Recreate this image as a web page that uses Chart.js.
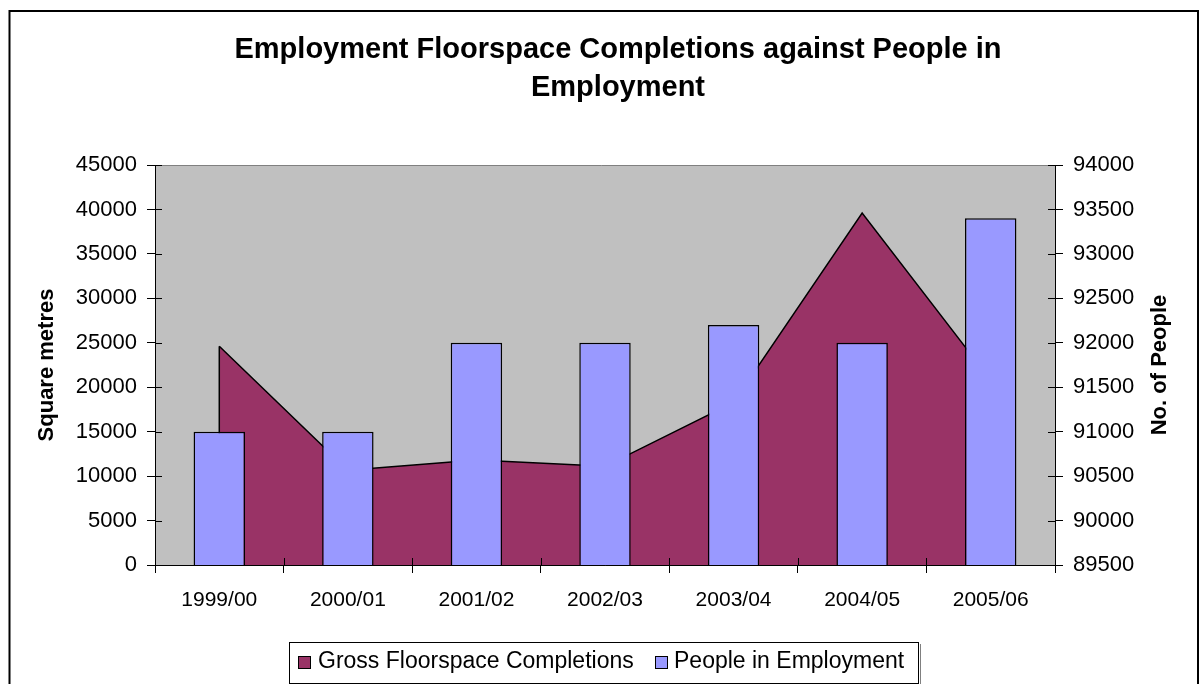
<!DOCTYPE html>
<html>
<head>
<meta charset="utf-8">
<title>Employment Floorspace Completions against People in Employment</title>
<script src="https://cdn.jsdelivr.net/npm/chart.js@4.4.0/dist/chart.umd.min.js"></script>
<style>
  html, body { margin: 0; padding: 0; background: #fff; }
  canvas { display: block; }
</style>
</head>
<body>
<canvas id="myChart" width="1202" height="684"></canvas>
<script>
// 연도별 값
const years = ['1999/00', '2000/01', '2001/02', '2002/03', '2003/04', '2004/05', '2005/06'];
const floorspace = [24600, 10650, 11800, 11100, 18300, 39600, 20800];
const employment = [91000, 91000, 92000, 92000, 92200, 92000, 93400];

// 축 범위
const sqmAxis = { min: 0, max: 45000, step: 5000 };
const peopleAxis = { min: 89500, max: 94000, step: 500 };

const titleLines = ['Employment Floorspace Completions against People in', 'Employment'];
const legendLabels = ['Gross Floorspace Completions', 'People in Employment'];
const rightAxisTitle = 'No. of People';

const AREA_COLOR = '#993366';
const BAR_COLOR = '#9999FF';
const FONT = "'Liberation Sans', Arial, sans-serif";

Chart.defaults.font.family = FONT;
Chart.defaults.color = '#000';

const plainNumber = v => String(v);

const framePlugin = {
  id: 'frame',
  beforeDraw(chart) {
    const ctx = chart.ctx;
    const a = chart.chartArea;
    ctx.save();
    ctx.fillStyle = '#fff';
    ctx.fillRect(0, 0, chart.width, chart.height);
    ctx.fillStyle = '#C0C0C0';
    ctx.fillRect(a.left, a.top, a.right - a.left, a.bottom - a.top);
    ctx.strokeStyle = '#808080';
    ctx.lineWidth = 1;
    ctx.beginPath();
    ctx.moveTo(a.left - 7, a.top + 0.5);
    ctx.lineTo(a.right, a.top + 0.5);
    ctx.stroke();
    ctx.restore();
  },
  afterDatasetDraw(chart, args) {
    // 면적 시리즈 양 끝 세로 테두리
    if (args.index !== 0) return;
    const pts = args.meta.data;
    const bottom = chart.scales.y.getPixelForValue(0);
    const ctx = chart.ctx;
    ctx.save();
    ctx.strokeStyle = '#000';
    ctx.lineWidth = 1.5;
    [pts[0], pts[pts.length - 1]].forEach(p => {
      ctx.beginPath();
      ctx.moveTo(p.x, p.y);
      ctx.lineTo(p.x, bottom);
      ctx.stroke();
    });
    ctx.restore();
  },
  afterDraw(chart) {
    const ctx = chart.ctx;
    const a = chart.chartArea;
    const x = chart.scales.x;
    const yl = chart.scales.y;
    const yr = chart.scales.y1;
    ctx.save();

    // 축선 + 안쪽 눈금
    ctx.strokeStyle = '#000';
    ctx.lineWidth = 1;
    ctx.beginPath();
    ctx.moveTo(a.left + 0.5, a.top);
    ctx.lineTo(a.left + 0.5, a.bottom + 0.5);
    ctx.lineTo(a.right + 0.5, a.bottom + 0.5);
    ctx.lineTo(a.right + 0.5, a.top);
    yl.ticks.forEach((t, i) => {
      const py = Math.round(yl.getPixelForTick(i)) + 0.5;
      ctx.moveTo(a.left, py);
      ctx.lineTo(a.left + 7, py);
    });
    yr.ticks.forEach((t, i) => {
      const py = Math.round(yr.getPixelForTick(i)) + 0.5;
      ctx.moveTo(a.right - 7, py);
      ctx.lineTo(a.right, py);
    });
    const step = x.getPixelForTick(1) - x.getPixelForTick(0);
    for (let k = 0; k <= years.length; k++) {
      const px = Math.round(x.getPixelForTick(0) - step / 2 + k * step) + 0.5;
      ctx.moveTo(px, a.bottom - 7);
      ctx.lineTo(px, a.bottom);
    }
    ctx.stroke();

    // 제목
    ctx.fillStyle = '#000';
    ctx.font = 'bold 29px ' + FONT;
    ctx.textAlign = 'center';
    ctx.textBaseline = 'alphabetic';
    ctx.fillText(titleLines[0], 618, 58);
    ctx.fillText(titleLines[1], 618, 96);

    // 오른쪽 축 제목 (아래에서 위로)
    ctx.save();
    ctx.translate(1160, (a.top + a.bottom) / 2);
    ctx.rotate(-Math.PI / 2);
    ctx.font = 'bold 22px ' + FONT;
    ctx.textBaseline = 'middle';
    ctx.fillText(rightAxisTitle, 0, 0);
    ctx.restore();

    // 범례
    ctx.strokeStyle = '#808080';
    ctx.beginPath();
    ctx.moveTo(920.5, 644);
    ctx.lineTo(920.5, 684.5);
    ctx.moveTo(291, 684.5);
    ctx.lineTo(920.5, 684.5);
    ctx.stroke();
    ctx.strokeStyle = '#000';
    ctx.strokeRect(289.5, 642.5, 629, 41);

    const items = [
      { color: AREA_COLOR, sx: 298, tx: 318 },
      { color: BAR_COLOR, sx: 655, tx: 674 }
    ];
    ctx.font = '23px ' + FONT;
    ctx.textAlign = 'left';
    items.forEach((it, i) => {
      ctx.fillStyle = it.color;
      ctx.fillRect(it.sx, 656, 12, 12);
      ctx.strokeRect(it.sx + 0.5, 656.5, 12, 12);
      ctx.fillStyle = '#000';
      ctx.fillText(legendLabels[i], it.tx, 668);
    });

    // 바깥 테두리
    ctx.lineWidth = 2;
    ctx.beginPath();
    ctx.moveTo(9.5, 700);
    ctx.lineTo(9.5, 11);
    ctx.lineTo(1198, 11);
    ctx.lineTo(1198, 700);
    ctx.stroke();
    ctx.restore();
  }
};

const ctx = document.getElementById('myChart');

new Chart(ctx, {
  type: 'bar',
  data: {
    labels: years,
    datasets: [
      {
        type: 'line',
        label: legendLabels[0],
        data: floorspace,
        yAxisID: 'y',
        fill: 'origin',
        backgroundColor: AREA_COLOR,
        borderColor: '#000',
        borderWidth: 1.5,
        pointRadius: 0,
        tension: 0,
        order: 2
      },
      {
        type: 'bar',
        label: legendLabels[1],
        data: employment,
        yAxisID: 'y1',
        backgroundColor: BAR_COLOR,
        borderColor: '#000',
        borderWidth: 1.5,
        barPercentage: 0.4,
        categoryPercentage: 1.0,
        order: 1
      }
    ]
  },
  options: {
    responsive: false,
    animation: false,
    devicePixelRatio: 1,
    layout: { padding: { left: 10, right: 10, top: 165, bottom: 69 } },
    plugins: {
      legend: { display: false },
      title: { display: false },
      tooltip: { enabled: false }
    },
    scales: {
      x: {
        offset: true,
        grid: { offset: true, drawOnChartArea: false, tickLength: 8, color: '#000' },
        border: { color: '#000' },
        ticks: { color: '#000', font: { size: 21 }, padding: 15, maxRotation: 0, autoSkip: false },
        afterFit: s => { s.height = 50; s.paddingLeft = 0; s.paddingRight = 0; }
      },
      y: {
        position: 'left',
        min: sqmAxis.min,
        max: sqmAxis.max,
        ticks: { stepSize: sqmAxis.step, color: '#000', font: { size: 22 }, padding: 10, callback: plainNumber },
        grid: { drawOnChartArea: false, tickLength: 8, color: '#000' },
        border: { color: '#000' },
        title: {
          display: true,
          text: 'Square metres',
          color: '#000',
          font: { size: 22, weight: 'bold' },
          padding: { top: 24, bottom: 0 }
        },
        afterFit: s => { s.width = 145; s.paddingTop = 0; s.paddingBottom = 0; }
      },
      y1: {
        position: 'right',
        min: peopleAxis.min,
        max: peopleAxis.max,
        ticks: { stepSize: peopleAxis.step, color: '#000', font: { size: 22 }, padding: 10, callback: plainNumber },
        grid: { drawOnChartArea: false, tickLength: 8, color: '#000' },
        border: { color: '#000' },
        title: { display: false },
        afterFit: s => { s.width = 137; s.paddingTop = 0; s.paddingBottom = 0; }
      }
    }
  },
  plugins: [framePlugin]
});
</script>
</body>
</html>
